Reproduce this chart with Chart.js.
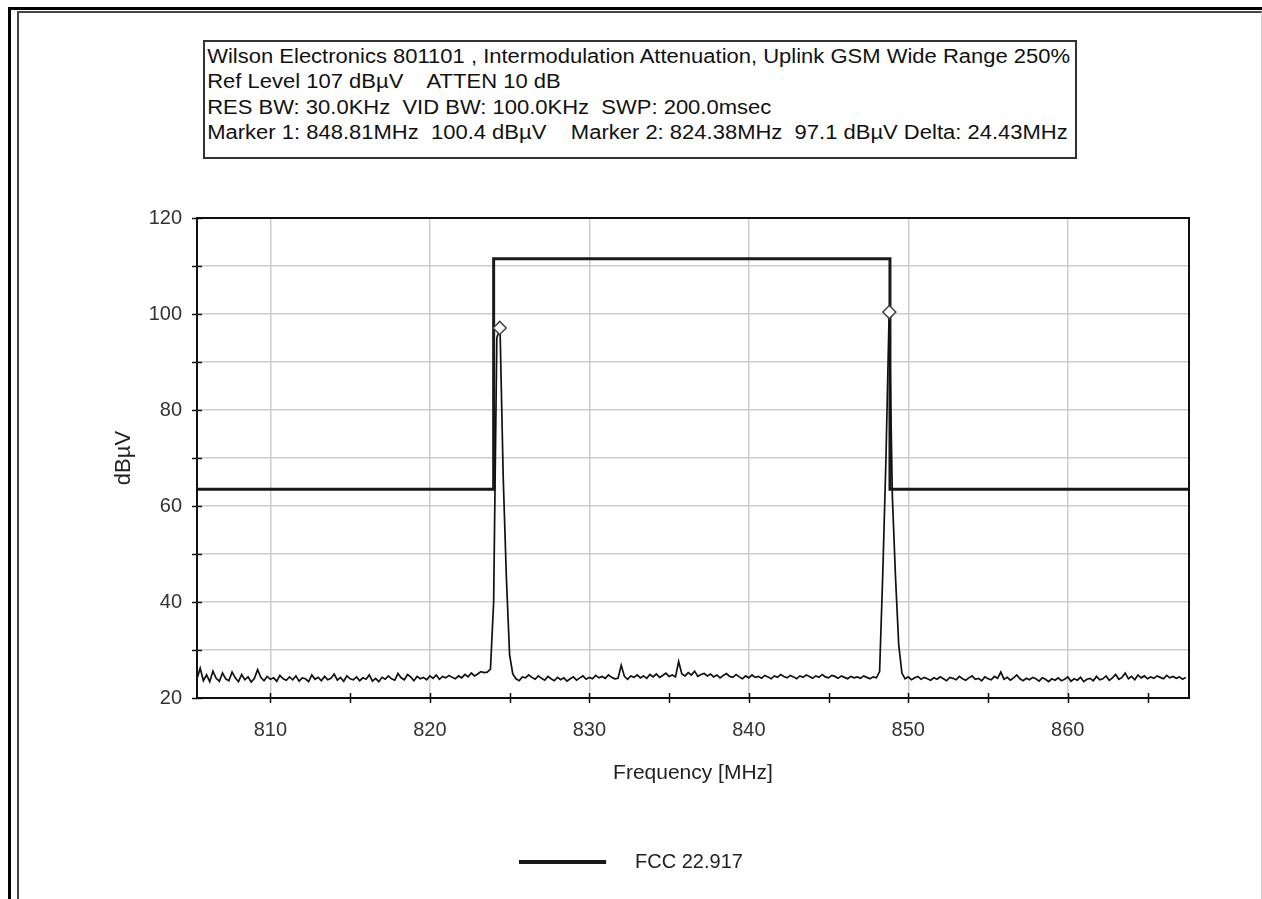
<!DOCTYPE html>
<html>
<head>
<meta charset="utf-8">
<title>Intermodulation Attenuation - Uplink GSM</title>
<script src="https://cdn.jsdelivr.net/npm/chart.js@4.4.1/dist/chart.umd.min.js"></script>
<style>
  html, body { margin: 0; padding: 0; background: #fff; }
  body { width: 1262px; height: 899px; position: relative; overflow: hidden; font-family: "Liberation Sans", Arial, sans-serif; }
  #outerFrame { position: absolute; left: 8px; top: 7px; width: 1300px; height: 1000px; border-top: 3px solid #000; border-left: 3px solid #000; }
  #innerFrame { position: absolute; left: 17px; top: 11px; width: 1242px; height: 1000px; border-top: 2px solid #444; border-left: 2px solid #444; border-right: 1px solid #d0d0d0; }
  #chart { position: absolute; left: 0; top: 0; }
  #infoBox { position: absolute; left: 203px; top: 40px; width: 870px; height: 115px; border: 2px solid #333; background: #fff; z-index: 2; overflow: hidden; }
  #infoBox .txt { transform: scaleX(1.1); transform-origin: left top; padding: 2px 0 0 2px; }
  #infoBox .line { white-space: pre; font-size: 20px; line-height: 25.3px; color: #111; }
</style>
</head>
<body>
<div id="outerFrame"></div>
<div id="innerFrame"></div>
<div id="infoBox"><div class="txt" id="infoText"></div></div>
<canvas id="chart" width="1262" height="899"></canvas>

<script>
/* ================= DATA ================= */

const infoLines = [
  "Wilson Electronics 801101 , Intermodulation Attenuation, Uplink GSM Wide Range 250%",
  "Ref Level 107 dB\u00b5V    ATTEN 10 dB",
  "RES BW: 30.0KHz  VID BW: 100.0KHz  SWP: 200.0msec",
  "Marker 1: 848.81MHz  100.4 dB\u00b5V    Marker 2: 824.38MHz  97.1 dB\u00b5V Delta: 24.43MHz"
];

// sweep: first frequency and spacing of the trace points (MHz)
const sweepStart = 805.4;
const sweepStep = 0.2;

// measured level at each sweep point (dBuV), 10 points per row
const traceLevel = [
  24.0, 26.2, 23.6, 24.8, 23.4, 25.6, 24.1, 23.5, 25.2, 24.0, // 805.4
  23.6, 25.4, 24.2, 23.4, 24.9, 23.8, 24.4, 23.3, 24.1, 25.9, // 807.4
  24.3, 23.6, 24.5, 23.9, 24.2, 23.5, 24.7, 24.0, 23.7, 24.4, // 809.4
  23.8, 24.6, 23.5, 24.2, 24.0, 23.4, 24.8, 23.9, 24.3, 23.6, // 811.4
  24.5, 23.8, 24.1, 25.0, 23.7, 24.3, 23.5, 24.6, 24.0, 23.8, // 813.4
  24.4, 23.6, 24.2, 23.9, 24.8, 23.5, 24.1, 23.4, 24.3, 23.9, // 815.4
  24.6, 24.0, 23.7, 25.1, 24.2, 23.8, 24.9, 24.4, 23.6, 24.5, // 817.4
  24.0, 24.3, 23.8, 24.6, 24.1, 24.8, 23.9, 24.5, 24.2, 24.7, // 819.4
  24.3, 24.0, 24.6, 24.2, 24.9, 24.4, 25.2, 24.6, 25.0, 25.5, // 821.4
  25.3, 25.4, 26.0, 40.0, 95.0, 97.1, 66.0, 45.0, 29.0, 25.0, // 823.4
  24.0, 23.6, 24.4, 24.2, 24.8, 24.3, 23.9, 24.6, 24.1, 23.7, // 825.4
  24.5, 24.0, 23.6, 24.3, 23.8, 24.2, 23.5, 24.0, 24.4, 23.7, // 827.4
  24.2, 24.6, 23.9, 24.3, 24.0, 24.7, 24.2, 24.5, 24.1, 24.8, // 829.4
  24.3, 24.0, 24.1, 26.8, 24.5, 23.9, 24.6, 24.3, 24.8, 24.2, // 831.4
  24.6, 24.1, 24.9, 24.4, 25.0, 24.3, 24.7, 25.2, 24.5, 24.8, // 833.4
  24.4, 27.6, 25.0, 24.6, 25.3, 24.8, 25.6, 24.5, 24.9, 25.1, // 835.4
  24.6, 25.0, 24.4, 24.8, 24.2, 24.7, 25.1, 24.5, 24.3, 24.9, // 837.4
  24.4, 24.0, 24.6, 24.2, 24.8, 24.3, 24.5, 24.1, 24.7, 24.4, // 839.4
  24.0, 24.6, 24.3, 24.9, 24.5, 24.2, 24.7, 24.4, 24.0, 24.6, // 841.4
  24.3, 24.8, 24.5, 24.1, 24.6, 24.3, 24.9, 24.4, 24.2, 24.7, // 843.4
  24.5, 24.1, 24.6, 24.3, 24.0, 24.5, 24.2, 24.4, 24.1, 24.6, // 845.4
  24.3, 24.0, 24.4, 24.2, 25.5, 46.0, 70.0, 100.4, 62.0, 45.0, // 847.4
  31.0, 25.2, 24.0, 24.4, 23.8, 24.2, 24.5, 23.9, 24.3, 24.0, // 849.4
  23.7, 24.2, 23.9, 24.4, 24.0, 23.6, 24.3, 24.1, 23.8, 24.5, // 851.4
  24.0, 23.7, 24.2, 24.6, 23.9, 24.1, 23.6, 24.4, 24.0, 23.8, // 853.4
  24.5, 24.1, 25.4, 23.9, 24.3, 23.7, 24.2, 24.8, 24.0, 23.6, // 855.4
  24.1, 23.8, 24.3, 24.0, 23.5, 24.2, 23.9, 23.4, 24.0, 23.7, // 857.4
  24.2, 23.6, 23.9, 24.4, 23.5, 24.0, 23.7, 24.3, 23.4, 23.9, // 859.4
  24.1, 23.6, 24.5, 23.8, 24.0, 24.6, 23.7, 24.2, 24.9, 23.9, // 861.4
  24.3, 25.2, 24.0, 24.5, 23.8, 24.8, 24.2, 24.6, 24.0, 24.4, // 863.4
  24.1, 24.6, 24.3, 24.0, 24.7, 24.2, 24.5, 24.1, 24.4, 23.9, // 865.4
  24.3                                                        // 867.4
];

// FCC 22.917 limit mask
const maskFreq  = [805.4, 824.0, 824.0, 848.85, 848.85, 867.6];
const maskLevel = [63.5, 63.5, 111.5, 111.5, 63.5, 63.5];

// markers
const markerFreq  = [848.81, 824.38];
const markerLevel = [100.4, 97.1];

// axes
const xMin = 805.4, xMax = 867.6;
const yMin = 20, yMax = 120;
const xTickValues = [810, 815, 820, 825, 830, 835, 840, 845, 850, 855, 860, 865];
const yTickValues = [20, 30, 40, 50, 60, 70, 80, 90, 100, 110, 120];

/* ================= INFO BOX ================= */

const infoText = document.getElementById("infoText");
infoLines.forEach(t => {
  const d = document.createElement("div");
  d.className = "line";
  d.textContent = t;
  infoText.appendChild(d);
});

/* ================= CHART ================= */

const tracePoints = traceLevel.map((v, i) => ({ x: +(sweepStart + i * sweepStep).toFixed(2), y: v }));
const maskPoints = maskFreq.map((f, i) => ({ x: f, y: maskLevel[i] }));
const markerPoints = markerFreq.map((f, i) => ({ x: f, y: markerLevel[i] }));

// legend swatch: short line with empty room on its right, like the original
const legendSwatch = document.createElement("canvas");
legendSwatch.width = 106;
legendSwatch.height = 4;
(function () {
  const c = legendSwatch.getContext("2d");
  c.fillStyle = "#1a1a1a";
  c.fillRect(0, 0, 87, 4);
})();

// plot frame + tick marks that cross the axis lines
const frameTicks = {
  id: "frameTicks",
  afterDatasetsDraw(chart) {
    const { ctx, chartArea: a, scales } = chart;
    ctx.save();
    ctx.strokeStyle = "#111";
    ctx.lineWidth = 2;
    ctx.strokeRect(a.left, a.top, a.right - a.left, a.bottom - a.top);
    ctx.lineWidth = 1.5;
    ctx.beginPath();
    scales.x.ticks.forEach(t => {
      const px = Math.round(scales.x.getPixelForValue(t.value)) + 0.5;
      ctx.moveTo(px, a.bottom - 5);
      ctx.lineTo(px, a.bottom + 5);
    });
    scales.y.ticks.forEach(t => {
      const py = Math.round(scales.y.getPixelForValue(t.value)) + 0.5;
      ctx.moveTo(a.left - 5, py);
      ctx.lineTo(a.left + 5, py);
    });
    ctx.stroke();
    ctx.restore();
  }
};

const ctx = document.getElementById("chart").getContext("2d");

new Chart(ctx, {
  type: "scatter",
  data: {
    datasets: [
      {
        label: "markers",
        data: markerPoints,
        showLine: false,
        pointStyle: "rectRot",
        pointRadius: 6.5,
        pointBackgroundColor: "#fff",
        pointBorderColor: "#444",
        pointBorderWidth: 1.5,
        order: 0
      },
      {
        label: "trace",
        data: tracePoints,
        showLine: true,
        borderColor: "#111",
        borderWidth: 1.7,
        pointRadius: 0,
        order: 1
      },
      {
        label: "FCC 22.917",
        data: maskPoints,
        showLine: true,
        borderColor: "#1a1a1a",
        backgroundColor: "#1a1a1a",
        borderWidth: 3,
        pointRadius: 0,
        pointStyle: legendSwatch,
        order: 2
      }
    ]
  },
  options: {
    responsive: false,
    animation: false,
    devicePixelRatio: 1,
    layout: { padding: { left: 73, right: 73, top: 218, bottom: 17 } },
    plugins: {
      tooltip: { enabled: false },
      legend: {
        position: "bottom",
        labels: {
          filter: item => item.text === "FCC 22.917",
          usePointStyle: true,
          pointStyleWidth: 106,
          padding: 10,
          color: "#222",
          font: { family: "Liberation Sans", size: 20 }
        }
      }
    },
    scales: {
      x: {
        type: "linear",
        min: xMin,
        max: xMax,
        afterBuildTicks: scale => {
          scale.ticks = xTickValues.map(v => ({ value: v }));
        },
        afterFit: scale => { scale.height = 144; },
        ticks: {
          autoSkip: false,
          maxRotation: 0,
          padding: 20,
          color: "#333",
          font: { family: "Liberation Sans", size: 20 },
          callback: v => (v % 10 === 0 ? v : "")
        },
        grid: {
          drawTicks: false,
          lineWidth: 1.5,
          color: c => (c.tick && c.tick.value % 10 === 0 ? "#cdcdcd" : "rgba(0,0,0,0)")
        },
        border: { display: true, color: "#111", width: 2 },
        title: {
          display: true,
          text: "Frequency [MHz]",
          color: "#222",
          font: { family: "Liberation Sans", size: 21 },
          padding: { top: 4, bottom: 56 }
        }
      },
      y: {
        min: yMin,
        max: yMax,
        afterBuildTicks: scale => {
          scale.ticks = yTickValues.map(v => ({ value: v }));
        },
        afterFit: scale => { scale.width = 124; },
        ticks: {
          autoSkip: false,
          padding: 15,
          color: "#333",
          font: { family: "Liberation Sans", size: 20 },
          callback: v => (v % 20 === 0 ? v : "")
        },
        grid: { drawTicks: false, lineWidth: 1.5, color: "#cdcdcd" },
        border: { display: true, color: "#111", width: 2 },
        title: {
          display: true,
          text: "dB\u00b5V",
          color: "#222",
          font: { family: "Liberation Sans", size: 22 },
          padding: { top: 38, bottom: 0 }
        }
      }
    }
  },
  plugins: [frameTicks]
});
</script>
</body>
</html>
